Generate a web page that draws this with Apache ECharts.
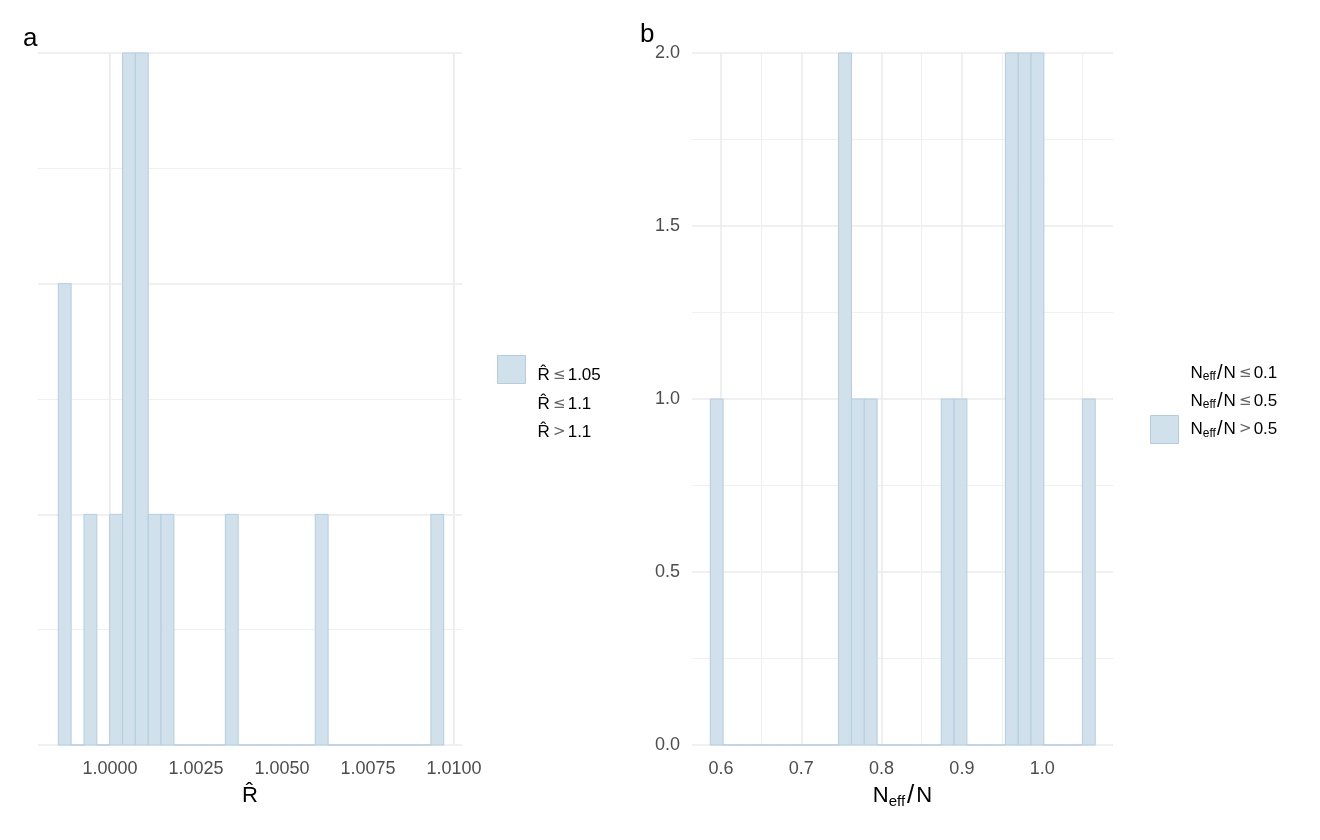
<!DOCTYPE html>
<html>
<head>
<meta charset="utf-8">
<script src="https://cdn.jsdelivr.net/npm/echarts@6.0.0/dist/echarts.min.js"></script>
<style>
  html, body { margin: 0; padding: 0; background: #fff; }
  #chart { width: 1320px; height: 840px; }
</style>
</head>
<body>
<div id="chart"></div>
<script>
  // panel a: R-hat histogram, 30 bins
  var rhatBinStart = 0.998497
  var rhatBinWidth = 0.0003735
  var rhatCounts = [2, 0, 1, 0, 1, 3, 3, 1, 1, 0, 0, 0, 0, 1, 0, 0, 0, 0, 0, 0, 1, 0, 0, 0, 0, 0, 0, 0, 0, 1]
  var rhatTicks = [1.0000, 1.0025, 1.0050, 1.0075, 1.0100]
  var rhatMinorTicks = [0.99875, 1.00125, 1.00375, 1.00625, 1.00875]
  var rhatLegend = ['rhat_105', 'rhat_11', 'rhat_gt11']

  // panel b: N_eff / N histogram, 30 bins
  var neffBinStart = 0.58667
  var neffBinWidth = 0.01598
  var neffCounts = [1, 0, 0, 0, 0, 0, 0, 0, 0, 0, 2, 1, 1, 0, 0, 0, 0, 0, 1, 1, 0, 0, 0, 2, 2, 2, 0, 0, 0, 1]
  var neffTicks = [0.6, 0.7, 0.8, 0.9, 1.0]
  var neffMinorTicks = [0.65, 0.75, 0.85, 0.95, 1.05]
  var neffLegend = ['neff_01', 'neff_05', 'neff_gt05']

  var FILL = '#d1e1ec'
  var LINE = '#b3cde0'
  var FONT = 'Liberation Sans, Arial, sans-serif'

  var legendText = {
    rhat_105: '{t|R\u0302} {op|\u2264}{t|1.05}',
    rhat_11: '{t|R\u0302} {op|\u2264}{t|1.1}',
    rhat_gt11: '{t|R\u0302} {op|>}{t|1.1}',
    neff_01: '{t|N}{s|eff}{sl|/}{t|N} {op|\u2264}{t|0.1}',
    neff_05: '{t|N}{s|eff}{sl|/}{t|N} {op|\u2264}{t|0.5}',
    neff_gt05: '{t|N}{s|eff}{sl|/}{t|N} {op|>}{t|0.5}'
  }
  var legendRich = {
    t: { fontSize: 17, lineHeight: 20, color: '#000', fontFamily: FONT },
    op: { fontSize: 15, lineHeight: 20, color: '#666', fontFamily: 'DejaVu Sans', padding: [0, 2, 0, 0] },
    s: { fontSize: 12, lineHeight: 20, color: '#000', fontFamily: FONT, verticalAlign: 'bottom', padding: [6, 0, 0, 0] },
    sl: { fontSize: 20, lineHeight: 20, color: '#000', fontFamily: FONT, padding: [0, 1, 0, 1] }
  }

  function bins(start, width, counts) {
    return counts.map(function (c, i) {
      return [start + i * width, start + (i + 1) * width, c]
    })
  }

  function renderHist(params, api) {
    var p0 = api.coord([api.value(0), api.value(2)])
    var p1 = api.coord([api.value(1), 0])
    return {
      type: 'rect',
      shape: { x: p0[0], y: p0[1], width: p1[0] - p0[0], height: p1[1] - p0[1] },
      style: { fill: FILL, stroke: LINE, lineWidth: 1 }
    }
  }

  // vertical grid lines (major + minor) as mark lines
  function gridMarks(major, minor) {
    var out = []
    major.forEach(function (v) {
      out.push({ xAxis: v, lineStyle: { color: '#ebebeb', width: 1.6, type: 'solid' } })
    })
    minor.forEach(function (v) {
      out.push({ xAxis: v, lineStyle: { color: '#f0f0f0', width: 1, type: 'solid' } })
    })
    return out
  }

  function legendItems(names, keyIndex) {
    return names.map(function (n, i) {
      return i === keyIndex
        ? { name: n, itemStyle: { color: FILL, borderColor: LINE, borderWidth: 1 } }
        : { name: n, itemStyle: { color: 'rgba(0,0,0,0)', borderWidth: 0 } }
    })
  }

  var myChart = echarts.init(document.getElementById('chart'))

  var option = {
    animation: false,
    backgroundColor: '#fff',
    textStyle: { fontFamily: FONT },
    graphic: [
      { type: 'text', left: 23, top: 26, style: { text: 'a', fontSize: 26, fill: '#000', fontFamily: FONT } },
      { type: 'text', left: 640, top: 22, style: { text: 'b', fontSize: 26, fill: '#000', fontFamily: FONT } }
    ],
    grid: [
      { left: 38, right: 858, top: 53, bottom: 95 },
      { left: 692, right: 207, top: 53, bottom: 95 }
    ],
    legend: [
      {
        orient: 'vertical', left: 497, top: 355, padding: 0,
        itemWidth: 28, itemHeight: 28, itemGap: 0, icon: 'rect',
        selectedMode: false,
        data: legendItems(rhatLegend, 0),
        formatter: function (n) { return legendText[n] },
        textStyle: { padding: [12, 0, 0, 7], rich: legendRich }
      },
      {
        orient: 'vertical', left: 1150, top: 359, padding: 0,
        itemWidth: 28, itemHeight: 28, itemGap: 0, icon: 'rect',
        selectedMode: false,
        data: legendItems(neffLegend, 2),
        formatter: function (n) { return legendText[n] },
        textStyle: { padding: [0, 0, 0, 7], rich: legendRich }
      }
    ],
    xAxis: [
      {
        type: 'value', gridIndex: 0,
        min: 0.997907, max: 1.010233,
        axisLine: { show: false }, axisTick: { show: false, customValues: rhatTicks },
        splitLine: { show: false },
        axisLabel: {
          customValues: rhatTicks, margin: 15,
          color: '#4d4d4d', fontSize: 18, fontFamily: FONT,
          formatter: function (v) { return v.toFixed(4) }
        },
        name: 'R\u0302', nameLocation: 'middle', nameGap: 40,
        nameTextStyle: { fontSize: 22, color: '#000', fontFamily: FONT }
      },
      {
        type: 'value', gridIndex: 1,
        min: 0.5639, max: 1.0882,
        axisLine: { show: false }, axisTick: { show: false, customValues: neffTicks },
        splitLine: { show: false },
        axisLabel: {
          customValues: neffTicks, margin: 15,
          color: '#4d4d4d', fontSize: 18, fontFamily: FONT,
          formatter: function (v) { return v.toFixed(1) }
        },
        name: '{n|N}{s|eff}{sl|/}{n|N}', nameLocation: 'middle', nameGap: 38,
        nameTextStyle: {
          rich: {
            n: { fontSize: 22, color: '#000', fontFamily: FONT },
            s: { fontSize: 15, color: '#000', fontFamily: FONT, verticalAlign: 'bottom', padding: [8, 0, 0, 0] },
            sl: { fontSize: 26, color: '#000', fontFamily: FONT, padding: [0, 2, 0, 2] }
          }
        }
      }
    ],
    yAxis: [
      {
        type: 'value', gridIndex: 0, min: 0, max: 3, interval: 1,
        axisLine: { show: false }, axisTick: { show: false },
        axisLabel: { show: false },
        splitLine: { lineStyle: { color: '#ebebeb', width: 1.6 } },
        minorTick: { show: false, splitNumber: 2 },
        minorSplitLine: { show: true, lineStyle: { color: '#f0f0f0', width: 1 } }
      },
      {
        type: 'value', gridIndex: 1, min: 0, max: 2, interval: 0.5,
        axisLine: { show: false }, axisTick: { show: false },
        axisLabel: {
          margin: 12, color: '#4d4d4d', fontSize: 18, fontFamily: FONT,
          formatter: function (v) { return v.toFixed(1) }
        },
        splitLine: { lineStyle: { color: '#ebebeb', width: 1.6 } },
        minorTick: { show: false, splitNumber: 2 },
        minorSplitLine: { show: true, lineStyle: { color: '#f0f0f0', width: 1 } }
      }
    ],
    series: [
      {
        name: rhatLegend[0], type: 'custom', xAxisIndex: 0, yAxisIndex: 0, z: 3,
        renderItem: renderHist, encode: { x: [0, 1], y: 2 },
        itemStyle: { color: FILL },
        data: bins(rhatBinStart, rhatBinWidth, rhatCounts),
        markLine: {
          silent: true, symbol: 'none', z: 1, animation: false,
          label: { show: false },
          data: gridMarks(rhatTicks, rhatMinorTicks)
        }
      },
      { name: rhatLegend[1], type: 'custom', xAxisIndex: 0, yAxisIndex: 0, renderItem: renderHist, data: [] },
      { name: rhatLegend[2], type: 'custom', xAxisIndex: 0, yAxisIndex: 0, renderItem: renderHist, data: [] },
      { name: neffLegend[0], type: 'custom', xAxisIndex: 1, yAxisIndex: 1, renderItem: renderHist, data: [] },
      { name: neffLegend[1], type: 'custom', xAxisIndex: 1, yAxisIndex: 1, renderItem: renderHist, data: [] },
      {
        name: neffLegend[2], type: 'custom', xAxisIndex: 1, yAxisIndex: 1, z: 3,
        renderItem: renderHist, encode: { x: [0, 1], y: 2 },
        itemStyle: { color: FILL },
        data: bins(neffBinStart, neffBinWidth, neffCounts),
        markLine: {
          silent: true, symbol: 'none', z: 1, animation: false,
          label: { show: false },
          data: gridMarks(neffTicks, neffMinorTicks)
        }
      }
    ]
  }

  myChart.setOption(option)
  window.addEventListener('resize', function () { myChart.resize() })
</script>
</body>
</html>
